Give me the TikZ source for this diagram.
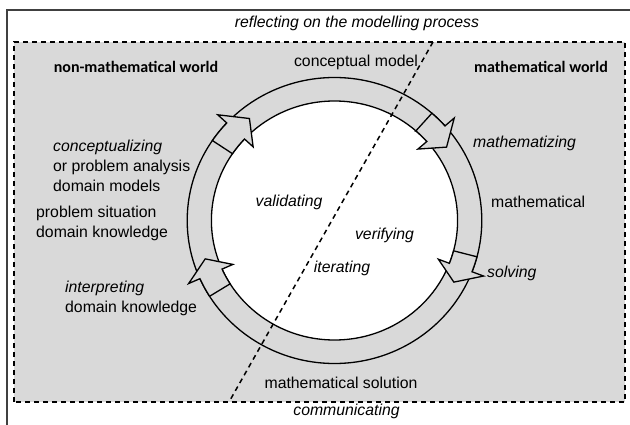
\documentclass[tikz,border=0pt]{standalone}
\usepackage{fontspec}
\setmainfont{Liberation Sans}
\newfontfamily\worldfont{Carlito}
\definecolor{bggray}{HTML}{D9D9D9}
\definecolor{framegray}{HTML}{404040}
\begin{document}
\begin{tikzpicture}[x=1pt,y=1pt,
  txt/.style={inner sep=0pt,font=\fontsize{15.8}{20}\selectfont},
  lbl/.style={inner sep=0pt,font=\fontsize{15.8}{20}\selectfont\itshape},
  world/.style={inner sep=0pt,font=\fontsize{16}{20}\selectfont\worldfont\bfseries},
  dash line/.style={line width=1.5pt,dash pattern=on 5pt off 4pt},
  ring/.style={line width=1.3pt}]
 \useasboundingbox (0,0) rectangle (630,424);
 \draw[framegray,line width=2pt] (7,-2) -- (7,414) -- (632,414);
 \filldraw[fill=bggray,dash line] (14,22) rectangle (625,382);
 \begin{scope}[shift={(334.5,203.5)},xscale=1.03]
  \filldraw[ring,fill=bggray] (0,0) circle (143);
  \filldraw[ring,fill=white] (0,0) circle (119.5);
  \foreach \ta/\tb/\tc in {146/137/129,48.6/41.4/34,-14.7/-21/-28,212/204/197}
   \filldraw[ring,fill=bggray,line join=miter] (\ta:119.5) -- (\ta:143)
     arc[start angle=\ta,end angle=\tb,radius=143] -- (\tb:155) -- (\tc:131.25)
     -- (\tb:108) -- (\tb:119.5) arc[start angle=\tb,end angle=\ta,radius=119.5] -- cycle;
 \end{scope}
 \coordinate (reflect) at (433,382);
 \coordinate (communicate) at (229,22);
 \draw[dash line] (reflect) -- (communicate);
 \node[lbl] (reflecting) at (357,401) {reflecting on the modelling process};
 \node[lbl] (communicating) at (346.5,13) {communicating};
 \node[world] (nonmath) at (136,357) {non-mathematical world};
 \node[world] (math) at (541,357) {mathematical world};
 \node[txt] (concmodel) at (356,362) {conceptual model};
 \node[txt,anchor=west,align=left] (conceptualizing) at (53,258) {\textit{conceptualizing}\\or problem analysis\\domain models};
 \node[txt,anchor=west,align=left] (situation) at (36,201) {problem situation\\domain knowledge};
 \node[txt,anchor=west,align=left] (interpreting) at (65,126) {\textit{interpreting}\\domain knowledge};
 \node[lbl,anchor=west] (mathematizing) at (473,281) {mathematizing};
 \node[txt,anchor=west] (mathematical) at (491,222) {mathematical};
 \node[lbl,anchor=west] (solving) at (487,151) {solving};
 \node[lbl] (validating) at (289,222) {validating};
 \node[lbl] (verifying) at (384.5,189) {verifying};
 \node[lbl] (iterating) at (342,156) {iterating};
 \node[txt] (solution) at (341,41) {mathematical solution};
\end{tikzpicture}
\end{document}
